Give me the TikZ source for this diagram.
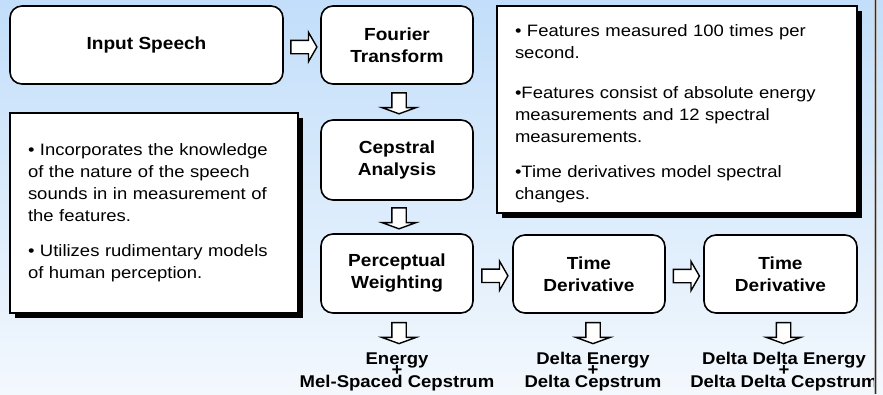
\documentclass[tikz,border=0pt]{standalone}
\usepackage{fontspec}
\setmainfont{Liberation Sans}[FakeStretch=1.12, BoldFeatures={FakeStretch=1.09}]
\usetikzlibrary{shapes.arrows,shadows,calc}

\definecolor{bgtop}{RGB}{194,222,250}
\definecolor{bgmid}{RGB}{210,231,251}
\definecolor{bgbot}{RGB}{243,248,253}
\definecolor{rulecol}{RGB}{40,44,60}

\newcommand{\tightlines}{\lineskiplimit=-50pt\relax}

\tikzset{
  procbox/.style={draw=black, line width=1.6pt, fill=white, rounded corners=12pt,
    align=center, font=\bfseries\fontsize{17.5}{22}\selectfont, inner sep=0pt},
  notebox/.style={draw=black, line width=1.4pt, fill=white, align=left,
    font=\fontsize{16.5}{22}\selectfont, inner xsep=18pt, inner ysep=0pt,
    general shadow={fill=black, shadow xshift=5pt, shadow yshift=-5pt}},
  rarrow/.style={single arrow, draw=black, fill=white, line width=1.4pt,
    minimum height=26pt, minimum width=28pt, inner sep=6pt,
    single arrow head extend=8pt, single arrow tip angle=120},
  darrow/.style={rarrow, shape border rotate=270, minimum height=21pt,
    minimum width=33pt, inner sep=6.5pt, single arrow head extend=10pt,
    single arrow tip angle=140},
  outlabel/.style={align=center, inner sep=0pt, anchor=base,
    font=\bfseries\fontsize{17}{11.5}\selectfont\tightlines}
}

\begin{document}
\begin{tikzpicture}[x=1pt, y=-1pt]
  \useasboundingbox (0,0) rectangle (883,394);
  % background
  \shade[top color=bgtop, middle color=bgmid, bottom color=bgbot] (0,0) rectangle (883,394);

  % processing chain
  \node[procbox, minimum width=273pt, minimum height=78pt] (in)  at (146.5,45) {Input Speech};
  \node[procbox, minimum width=152pt, minimum height=78pt] (ft)  at (397,45)   {Fourier\\Transform};
  \node[procbox, minimum width=152pt, minimum height=80pt] (cep) at (397,160)  {Cepstral\\Analysis};
  \node[procbox, minimum width=152pt, minimum height=79pt] (pw)  at (397,273.5) {Perceptual\\Weighting};
  \node[procbox, minimum width=152pt, minimum height=78pt] (td1) at (589,274)  {Time\\Derivative};
  \node[procbox, minimum width=153pt, minimum height=78pt] (td2) at (780.5,274) {Time\\Derivative};

  % notes
  \node[notebox, text width=252pt, minimum height=200pt] (noteL) at (154,213) {%
    \textbullet{} Incorporates the knowledge\\
    of the nature of the speech\\
    sounds in in measurement of\\
    the features.\\[13pt]
    \textbullet{} Utilizes rudimentary models\\
    of human perception.};
  \node[notebox, text width=324pt, minimum height=207pt] (noteR) at (677,109.5) {%
    \rule{0pt}{21pt}\textbullet{} Features measured 100 times per\\
    second.\\[18pt]
    \textbullet Features consist of absolute energy\\
    measurements and 12 spectral\\
    measurements.\\[13pt]
    \textbullet Time derivatives model spectral\\
    changes.};

  % block arrows between stages
  \node[rarrow] (a1) at ($(in.east)!0.5!(ft.west)+(0,2)$) {};
  \node[darrow] (a2) at ($(ft.south)!0.5!(cep.north)+(2,0)$) {};
  \node[darrow] (a3) at ($(cep.south)!0.5!(pw.north)+(2,0)$) {};
  \node[rarrow] (a4) at ($(pw.east)!0.5!(td1.west)+(0,2)$) {};
  \node[rarrow] (a5) at ($(td1.east)!0.5!(td2.west)+(0,2)$) {};
  \node[darrow] (a6) at ($(pw.south)+(2,18)$) {};
  \node[darrow] (a7) at ($(td1.south)+(4,18)$) {};
  \node[darrow] (a8) at ($(td2.south)+(3,18)$) {};

  % outputs
  \node[outlabel] (o1) at (397,387) {Energy\\+\\Mel-Spaced Cepstrum};
  \node[outlabel] (o2) at (593,387) {Delta Energy\\+\\Delta Cepstrum};
  \node[outlabel] (o3) at (784,387) {Delta Delta Energy\\+\\Delta Delta Cepstrum};

  % right-hand rule
  \draw[line width=3pt, color=gray!55] (875.5,0) -- (875.5,394);
  \draw[line width=1.3pt, color=rulecol] (875.5,0) -- (875.5,394);
\end{tikzpicture}
\end{document}
